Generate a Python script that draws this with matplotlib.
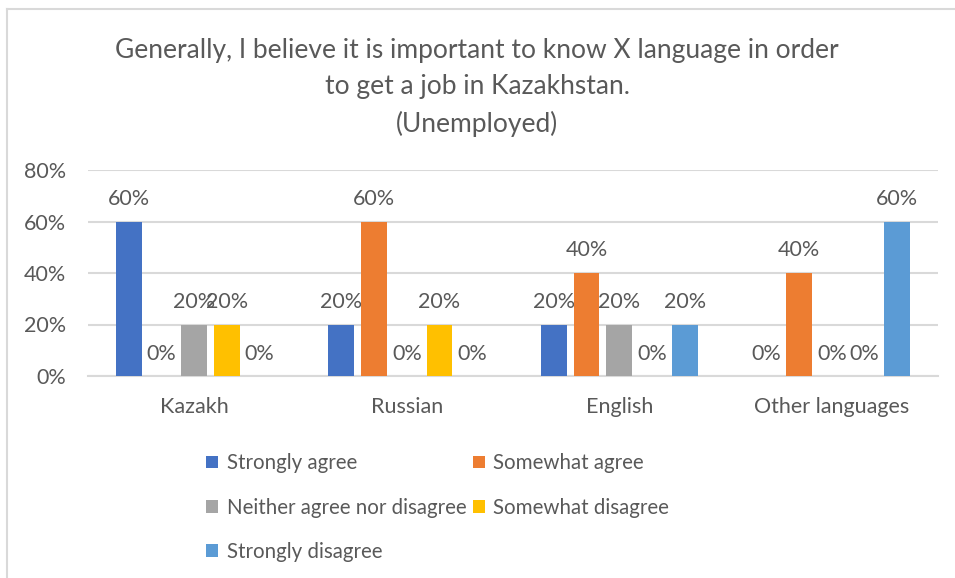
import numpy as np
import matplotlib.pyplot as plt
from matplotlib.lines import Line2D

plt.rcParams['font.family'] = ['Lato', 'DejaVu Sans']

languages = ['Kazakh', 'Russian', 'English', 'Other languages']
responses = ['Strongly agree', 'Somewhat agree', 'Neither agree nor disagree',
             'Somewhat disagree', 'Strongly disagree']
strongly_agree = [0.6, 0.2, 0.2, 0.0]
somewhat_agree = [0.0, 0.6, 0.4, 0.4]
neither = [0.2, 0.0, 0.2, 0.0]
somewhat_disagree = [0.2, 0.2, 0.0, 0.0]
strongly_disagree = [0.0, 0.0, 0.2, 0.6]
colors = ['#4472C4', '#ED7D31', '#A5A5A5', '#FFC000', '#5B9BD5']

series = [strongly_agree, somewhat_agree, neither, somewhat_disagree, strongly_disagree]
text_color = '#595959'
grid_color = '#D9D9D9'

W, H = 955, 578
fig = plt.figure(figsize=(W / 100, H / 100), dpi=100)
ax = fig.add_axes([88 / W, 202 / H, 850 / W, 206 / H])

x = np.arange(len(languages))
pitch = 0.154
width = 0.122
bars = []
for i, (vals, c) in enumerate(zip(series, colors)):
    b = ax.bar(x + (i - 2) * pitch, vals, width, color=c, label=responses[i], zorder=3)
    bars.append(b)
    for rect, v in zip(b, vals):
        ax.annotate(f'{v:.0%}', (rect.get_x() + rect.get_width() / 2, v),
                    xytext=(0, 9), textcoords='offset points',
                    ha='center', va='bottom', fontsize=15.5, color=text_color)

ax.set_xlim(-0.5, len(languages) - 0.5)
ax.set_ylim(0, 0.8)
ax.set_yticks([0, 0.2, 0.4, 0.6, 0.8])
ax.set_yticklabels(['0%', '20%', '40%', '60%', '80%'])
ax.set_xticks(x)
ax.set_xticklabels(languages)
ax.tick_params(length=0, labelsize=15.5, labelcolor=text_color)
ax.tick_params(axis='x', pad=15)
ax.tick_params(axis='y', pad=16)
ax.grid(axis='y', color=grid_color, lw=1.5, zorder=0)
for s in ['top', 'right', 'left']:
    ax.spines[s].set_visible(False)
ax.spines['bottom'].set_color(grid_color)
ax.spines['bottom'].set_linewidth(1.5)

fig.text(477 / W, 1 - 38 / H,
         'Generally, I believe it is important to know X language in order\n'
         'to get a job in Kazakhstan.\n(Unemployed)',
         ha='center', va='top', fontsize=19, color=text_color, linespacing=1.55)

# legend filled row by row: reorder handles for column-major layout
order = [0, 2, 4, 1, 3]
leg = fig.legend([bars[i] for i in order], [responses[i] for i in order],
                 ncol=2, loc='upper left', bbox_to_anchor=(196 / W, 1 - 443 / H),
                 frameon=False, fontsize=14.8, labelcolor=text_color,
                 handlelength=0.58, handleheight=0.58, handletextpad=0.42,
                 columnspacing=0.3, labelspacing=1.18, borderpad=0)

# chart area outline (left and top edges)
fig.add_artist(Line2D([6.5 / W, 6.5 / W], [0, 1 - 9 / H], color=grid_color, lw=1.5))
fig.add_artist(Line2D([6.5 / W, 1], [1 - 9 / H, 1 - 9 / H], color=grid_color, lw=1.5))

fig.savefig('out.png', dpi=100)
